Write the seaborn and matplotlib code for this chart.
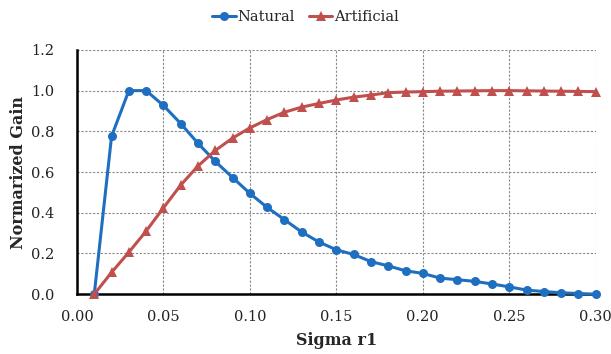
import numpy as np
import pandas as pd
import matplotlib
matplotlib.use("Agg")
import matplotlib.pyplot as plt
import seaborn as sns

sigma = [0.01, 0.02, 0.03, 0.04, 0.05, 0.06, 0.07, 0.08, 0.09, 0.10,
         0.11, 0.12, 0.13, 0.14, 0.15, 0.16, 0.17, 0.18, 0.19, 0.20,
         0.21, 0.22, 0.23, 0.24, 0.25, 0.26, 0.27, 0.28, 0.29, 0.30]
natural = [0.0, 0.776, 1.0, 1.0, 0.927, 0.838, 0.741, 0.652, 0.573, 0.495,
           0.426, 0.366, 0.305, 0.256, 0.218, 0.195, 0.16, 0.139, 0.115, 0.102,
           0.079, 0.071, 0.063, 0.05, 0.036, 0.02, 0.013, 0.007, 0.003, 0.0]
artificial = [0.0, 0.107, 0.206, 0.31, 0.424, 0.536, 0.630, 0.706, 0.767, 0.817,
              0.858, 0.894, 0.919, 0.937, 0.954, 0.968, 0.978, 0.99, 0.993, 0.995,
              0.997, 0.998, 0.999, 1.0, 1.0, 0.999, 0.998, 0.997, 0.996, 0.995]
series_names = ["Natural", "Artificial"]
xticks = [0.00, 0.05, 0.10, 0.15, 0.20, 0.25, 0.30]
yticks = [0.0, 0.2, 0.4, 0.6, 0.8, 1.0, 1.2]

df = pd.DataFrame({
    "Sigma r1": sigma * 2,
    "Gain": natural + artificial,
    "Series": [series_names[0]] * len(sigma) + [series_names[1]] * len(sigma),
})

sns.set_style("white")
plt.rcParams["font.family"] = ["DejaVu Serif"]

fig = plt.figure(figsize=(6.11, 3.54), dpi=100)
ax = fig.add_axes([0.126, 0.169, 0.849, 0.690])

palette = {"Natural": "#1f6fc0", "Artificial": "#c0504d"}
sns.lineplot(data=df, x="Sigma r1", y="Gain", hue="Series", style="Series",
             markers={"Natural": "o", "Artificial": "^"}, dashes=False,
             palette=palette, linewidth=2.2, markersize=6.5, markeredgewidth=0,
             ax=ax, clip_on=False, zorder=3)

ax.set_xlim(0, 0.30)
ax.set_ylim(0, 1.2)
ax.set_xticks(xticks)
ax.set_yticks(yticks)
ax.set_xticklabels([f"{v:.2f}" for v in xticks], fontsize=10.5, color="#222222")
ax.set_yticklabels([f"{v:.1f}" for v in yticks], fontsize=10.5, color="#222222")
ax.grid(True, color="#888888", linestyle=(0, (2, 1.5)), linewidth=0.8)
ax.set_axisbelow(True)
for s in ["top", "right"]:
    ax.spines[s].set_visible(False)
for s in ["left", "bottom"]:
    ax.spines[s].set_color("black")
    ax.spines[s].set_linewidth(1.8)
    ax.spines[s].set_zorder(2)
ax.tick_params(axis="both", direction="out", length=3.5, width=1.5, color="black")
ax.tick_params(axis="x", pad=8)
ax.tick_params(axis="y", pad=13)
ax.set_xlabel("Sigma r1", fontsize=11.5, fontweight="bold", labelpad=6)
ax.set_ylabel("Normarized Gain", fontsize=11.5, fontweight="bold", labelpad=3)

handles, labels = ax.get_legend_handles_labels()
ax.get_legend().remove()
fig.legend(handles, labels, loc="center", bbox_to_anchor=(0.5, 0.952), ncol=2, frameon=False,
           fontsize=10.5, handlelength=1.6, handletextpad=0.1, columnspacing=1.0)

fig.savefig("out.png", dpi=100)
